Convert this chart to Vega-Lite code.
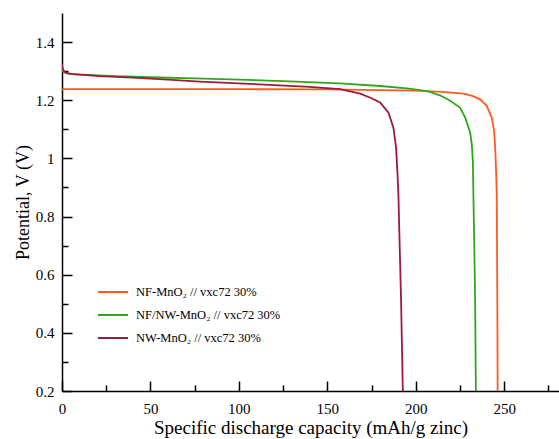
{
  "$schema": "https://vega.github.io/schema/vega-lite/v6.json",
  "width": 497,
  "height": 378,
  "autosize": "none",
  "padding": {"left": 62, "top": 13, "right": 0, "bottom": 48},
  "background": "white",
  "config": {
    "view": {"stroke": null},
    "font": "Times New Roman, Times, Liberation Serif, DejaVu Serif, Noto Serif, serif"
  },
  "data": {
    "values": [
      {"series": "NF-MnO₂ // vxc72 30%", "cap": 0, "v": 1.236},
      {"series": "NF-MnO₂ // vxc72 30%", "cap": 1, "v": 1.238},
      {"series": "NF-MnO₂ // vxc72 30%", "cap": 20, "v": 1.238},
      {"series": "NF-MnO₂ // vxc72 30%", "cap": 50, "v": 1.238},
      {"series": "NF-MnO₂ // vxc72 30%", "cap": 100, "v": 1.238},
      {"series": "NF-MnO₂ // vxc72 30%", "cap": 150, "v": 1.237},
      {"series": "NF-MnO₂ // vxc72 30%", "cap": 180, "v": 1.235},
      {"series": "NF-MnO₂ // vxc72 30%", "cap": 200, "v": 1.233},
      {"series": "NF-MnO₂ // vxc72 30%", "cap": 215, "v": 1.229},
      {"series": "NF-MnO₂ // vxc72 30%", "cap": 227, "v": 1.223},
      {"series": "NF-MnO₂ // vxc72 30%", "cap": 232, "v": 1.215},
      {"series": "NF-MnO₂ // vxc72 30%", "cap": 236.4, "v": 1.203},
      {"series": "NF-MnO₂ // vxc72 30%", "cap": 240.2, "v": 1.18},
      {"series": "NF-MnO₂ // vxc72 30%", "cap": 243, "v": 1.14},
      {"series": "NF-MnO₂ // vxc72 30%", "cap": 244.3, "v": 1.095},
      {"series": "NF-MnO₂ // vxc72 30%", "cap": 245, "v": 1.026},
      {"series": "NF-MnO₂ // vxc72 30%", "cap": 245.5, "v": 0.945},
      {"series": "NF-MnO₂ // vxc72 30%", "cap": 245.8, "v": 0.876},
      {"series": "NF-MnO₂ // vxc72 30%", "cap": 246.05, "v": 0.6},
      {"series": "NF-MnO₂ // vxc72 30%", "cap": 246.2, "v": 0.4},
      {"series": "NF-MnO₂ // vxc72 30%", "cap": 246.3, "v": 0.2},

      {"series": "NF/NW-MnO₂ // vxc72 30%", "cap": 0, "v": 1.315},
      {"series": "NF/NW-MnO₂ // vxc72 30%", "cap": 0.5, "v": 1.3},
      {"series": "NF/NW-MnO₂ // vxc72 30%", "cap": 2, "v": 1.294},
      {"series": "NF/NW-MnO₂ // vxc72 30%", "cap": 5, "v": 1.29},
      {"series": "NF/NW-MnO₂ // vxc72 30%", "cap": 15, "v": 1.287},
      {"series": "NF/NW-MnO₂ // vxc72 30%", "cap": 30, "v": 1.283},
      {"series": "NF/NW-MnO₂ // vxc72 30%", "cap": 50, "v": 1.279},
      {"series": "NF/NW-MnO₂ // vxc72 30%", "cap": 75, "v": 1.275},
      {"series": "NF/NW-MnO₂ // vxc72 30%", "cap": 100, "v": 1.271},
      {"series": "NF/NW-MnO₂ // vxc72 30%", "cap": 125, "v": 1.266},
      {"series": "NF/NW-MnO₂ // vxc72 30%", "cap": 157, "v": 1.258},
      {"series": "NF/NW-MnO₂ // vxc72 30%", "cap": 180, "v": 1.249},
      {"series": "NF/NW-MnO₂ // vxc72 30%", "cap": 195, "v": 1.241},
      {"series": "NF/NW-MnO₂ // vxc72 30%", "cap": 202.5, "v": 1.235},
      {"series": "NF/NW-MnO₂ // vxc72 30%", "cap": 208, "v": 1.229},
      {"series": "NF/NW-MnO₂ // vxc72 30%", "cap": 214, "v": 1.216},
      {"series": "NF/NW-MnO₂ // vxc72 30%", "cap": 219.5, "v": 1.198},
      {"series": "NF/NW-MnO₂ // vxc72 30%", "cap": 225, "v": 1.175},
      {"series": "NF/NW-MnO₂ // vxc72 30%", "cap": 228, "v": 1.14},
      {"series": "NF/NW-MnO₂ // vxc72 30%", "cap": 230.8, "v": 1.088},
      {"series": "NF/NW-MnO₂ // vxc72 30%", "cap": 231.7, "v": 1.048},
      {"series": "NF/NW-MnO₂ // vxc72 30%", "cap": 232.3, "v": 0.99},
      {"series": "NF/NW-MnO₂ // vxc72 30%", "cap": 232.6, "v": 0.876},
      {"series": "NF/NW-MnO₂ // vxc72 30%", "cap": 233.1, "v": 0.7},
      {"series": "NF/NW-MnO₂ // vxc72 30%", "cap": 233.6, "v": 0.5},
      {"series": "NF/NW-MnO₂ // vxc72 30%", "cap": 234, "v": 0.2},

      {"series": "NW-MnO₂ // vxc72 30%", "cap": 0, "v": 1.325},
      {"series": "NW-MnO₂ // vxc72 30%", "cap": 0.5, "v": 1.305},
      {"series": "NW-MnO₂ // vxc72 30%", "cap": 2, "v": 1.295},
      {"series": "NW-MnO₂ // vxc72 30%", "cap": 5, "v": 1.291},
      {"series": "NW-MnO₂ // vxc72 30%", "cap": 10, "v": 1.288},
      {"series": "NW-MnO₂ // vxc72 30%", "cap": 21, "v": 1.283},
      {"series": "NW-MnO₂ // vxc72 30%", "cap": 40, "v": 1.278},
      {"series": "NW-MnO₂ // vxc72 30%", "cap": 60, "v": 1.271},
      {"series": "NW-MnO₂ // vxc72 30%", "cap": 78, "v": 1.264},
      {"series": "NW-MnO₂ // vxc72 30%", "cap": 100, "v": 1.258},
      {"series": "NW-MnO₂ // vxc72 30%", "cap": 120, "v": 1.252},
      {"series": "NW-MnO₂ // vxc72 30%", "cap": 140, "v": 1.246},
      {"series": "NW-MnO₂ // vxc72 30%", "cap": 157.2, "v": 1.238},
      {"series": "NW-MnO₂ // vxc72 30%", "cap": 168.6, "v": 1.223},
      {"series": "NW-MnO₂ // vxc72 30%", "cap": 175, "v": 1.207},
      {"series": "NW-MnO₂ // vxc72 30%", "cap": 179.9, "v": 1.192},
      {"series": "NW-MnO₂ // vxc72 30%", "cap": 184.6, "v": 1.157},
      {"series": "NW-MnO₂ // vxc72 30%", "cap": 187.4, "v": 1.105},
      {"series": "NW-MnO₂ // vxc72 30%", "cap": 188.9, "v": 1.036},
      {"series": "NW-MnO₂ // vxc72 30%", "cap": 189.7, "v": 0.945},
      {"series": "NW-MnO₂ // vxc72 30%", "cap": 190.2, "v": 0.876},
      {"series": "NW-MnO₂ // vxc72 30%", "cap": 191, "v": 0.68},
      {"series": "NW-MnO₂ // vxc72 30%", "cap": 191.7, "v": 0.514},
      {"series": "NW-MnO₂ // vxc72 30%", "cap": 192.7, "v": 0.2}
    ]
  },
  "layer": [
    {
      "mark": {"type": "line", "strokeWidth": 1.8, "clip": true},
      "encoding": {
        "x": {
          "field": "cap", "type": "quantitative",
          "scale": {"domain": [0, 281], "nice": false, "zero": false},
          "axis": {
            "orient": "bottom",
            "title": "Specific discharge capacity (mAh/g zinc)",
            "titleFont": "Times New Roman, Times, Liberation Serif, DejaVu Serif, Noto Serif, serif", "titleFontSize": 19, "titleFontWeight": "normal", "titleColor": "black",
            "titlePadding": 2,
            "values": [0, 50, 100, 150, 200, 250],
            "format": "d",
            "labelFont": "Times New Roman, Times, Liberation Serif, DejaVu Serif, Noto Serif, serif", "labelFontSize": 15, "labelColor": "black",
            "labelPadding": 10, "labelOverlap": false, "labelFlush": false,
            "ticks": false, "grid": false,
            "domainColor": "black", "domainWidth": 1.5
          }
        },
        "y": {
          "field": "v", "type": "quantitative",
          "scale": {"domain": [0.2, 1.5], "nice": false, "zero": false},
          "axis": {
            "orient": "left",
            "title": "Potential, V (V)",
            "titleFont": "Times New Roman, Times, Liberation Serif, DejaVu Serif, Noto Serif, serif", "titleFontSize": 18, "titleFontWeight": "normal", "titleColor": "black",
            "titlePadding": 3,
            "values": [0.2, 0.4, 0.6, 0.8, 1.0, 1.2, 1.4],
            "labelExpr": "format(datum.value, '~g')",
            "labelFont": "Times New Roman, Times, Liberation Serif, DejaVu Serif, Noto Serif, serif", "labelFontSize": 15, "labelColor": "black",
            "labelPadding": 8, "labelOverlap": false, "labelFlush": false,
            "ticks": false, "grid": false,
            "domainColor": "black", "domainWidth": 1.5
          }
        },
        "color": {
          "field": "series", "type": "nominal",
          "scale": {
            "domain": ["NF-MnO₂ // vxc72 30%", "NF/NW-MnO₂ // vxc72 30%", "NW-MnO₂ // vxc72 30%"],
            "range": ["#ff5a1f", "#2ea81a", "#a0193c"]
          },
          "legend": {
            "title": null,
            "orient": "none",
            "legendX": 35,
            "legendY": 263,
            "symbolType": "stroke",
            "symbolSize": 900,
            "symbolStrokeWidth": 2,
            "labelFont": "Times New Roman, Times, Liberation Serif, DejaVu Serif, Noto Serif, serif",
            "labelFontSize": 12.5,
            "labelColor": "black",
            "labelOffset": 7,
            "rowPadding": -11
          }
        }
      }
    },
    {
      "mark": {"type": "line", "strokeOpacity": 0, "clip": true},
      "encoding": {
        "detail": {"field": "series", "type": "nominal"},
        "x": {
          "field": "cap", "type": "quantitative",
          "axis": {
            "orient": "top",
            "offset": -378,
            "title": null,
            "values": [0, 25, 50, 75, 100, 125, 150, 175, 200, 225, 250, 275],
            "labels": false, "domain": false, "grid": false,
            "tickColor": "black", "tickWidth": 1.5,
            "tickSize": {"condition": {"test": "datum.value % 50 == 0", "value": 10}, "value": 6}
          }
        },
        "y": {
          "field": "v", "type": "quantitative",
          "axis": {
            "orient": "right",
            "offset": -497,
            "title": null,
            "values": [0.2, 0.3, 0.4, 0.5, 0.6, 0.7, 0.8, 0.9, 1.0, 1.1, 1.2, 1.3, 1.4],
            "labels": false, "domain": false, "grid": false,
            "tickColor": "black", "tickWidth": 1.5,
            "tickSize": {"condition": {"test": "round(datum.value * 10) % 2 == 0", "value": 10}, "value": 6}
          }
        }
      }
    }
  ],
  "resolve": {"axis": {"x": "independent", "y": "independent"}}
}
